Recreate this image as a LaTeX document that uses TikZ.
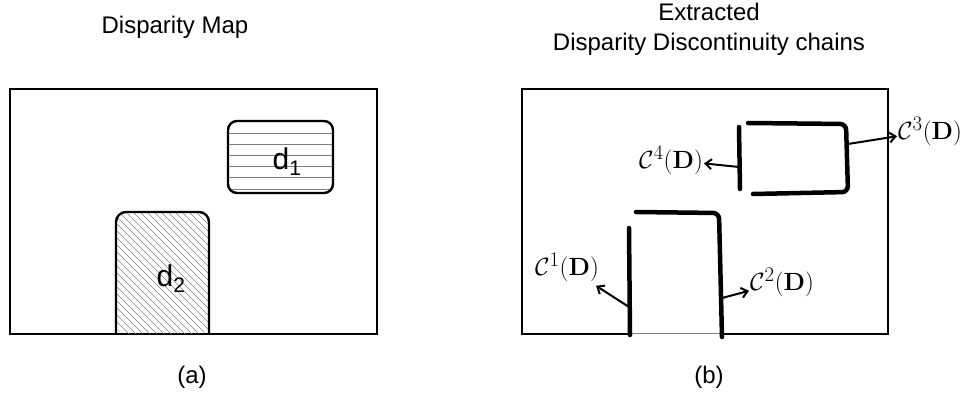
\documentclass[tikz,border=0pt]{standalone}
\usepackage{amsmath}
\usepackage[no-math]{fontspec}
\setmainfont{Liberation Sans}
\usetikzlibrary{arrows.meta}
\begin{document}
\begin{tikzpicture}[x=1pt,y=-1pt,
  frame/.style={line width=2.4pt},
  region/.style={line width=2.4pt},
  hatch/.style={gray,line width=0.6pt},
  chain/.style={line width=4.5pt,line cap=round,rounded corners=6},
  pointer/.style={line width=2pt,-{Straight Barb[length=6pt,width=10pt]}},
  title/.style={font=\fontsize{24}{30}\selectfont,align=center,inner sep=0pt},
  dlabel/.style={font=\fontsize{30}{32}\selectfont,inner sep=0pt},
  clabel/.style={font=\fontsize{28}{32}\selectfont,inner sep=1pt}]
\useasboundingbox (0,0) rectangle (967,393);
% ---------- (a) ----------
\node[title] (ta) at (175,27) {Disparity Map};
\draw[frame] (10,89) rectangle (377,334);
% d1 region
\begin{scope}
  \clip[rounded corners=9] (228,121) rectangle (333,193);
  \foreach \yy in {133,144.2,155.4,166.6,177.8,189} \draw[hatch] (220,\yy) -- (340,\yy);
\end{scope}
\draw[region,rounded corners=9] (228,121) rectangle (333,193);
\node[dlabel] (d1) at (287,162) {d\textsubscript{1}};
% d2 region
\begin{scope}
  \clip[rounded corners=10] (116,334) -- (116,212) -- (209,212) -- (209,334) -- cycle;
  \foreach \xx in {-40,-33,...,215} \draw[hatch] (\xx,200) -- (\xx+150,350);
\end{scope}
\draw[region,rounded corners=10] (116,334) -- (116,212) -- (209,212) -- (209,334);
\node[dlabel] (d2) at (171,279) {d\textsubscript{2}};
\node[title] (la) at (192,377) {(a)};
% ---------- (b) ----------
\node[title] (tb) at (709,29) {Extracted\\Disparity Discontinuity chains};
\draw[frame] (629,334) -- (522,334) -- (522,89) -- (888,89) -- (888,334) -- (722,334);
\draw[gray,line width=0.5pt,double=white,double distance=0.8pt] (629,334) -- (722,334);
% chains
\draw[chain] (748,123) -- (846,124) -- (848,192) -- (753,194);
\draw[chain] (739,127) -- (740,189);
\draw[chain] (636,212) -- (719,213) -- (722,337);
\draw[chain] (629,228) -- (630,335);
% anchor points on chains
\coordinate (p3) at (848,144);
\coordinate (p4) at (739,167);
\coordinate (p1) at (629,307);
\coordinate (p2) at (722,298);
% labels
\node[clabel] (c3) at (930,131) {$\mathcal{C}^{3}(\mathbf{D})$};
\node[clabel] (c4) at (671,160) {$\mathcal{C}^{4}(\mathbf{D})$};
\node[clabel] (c1) at (567,267) {$\mathcal{C}^{1}(\mathbf{D})$};
\node[clabel] (c2) at (782,282) {$\mathcal{C}^{2}(\mathbf{D})$};
\draw[pointer] (p3) -- (c3);
\draw[pointer] (p4) -- (c4);
\draw[pointer,shorten >=6pt] (p1) -- (c1);
\draw[pointer] (p2) -- (c2);
\node[title] (lb) at (709,377) {(b)};
\end{tikzpicture}
\end{document}
